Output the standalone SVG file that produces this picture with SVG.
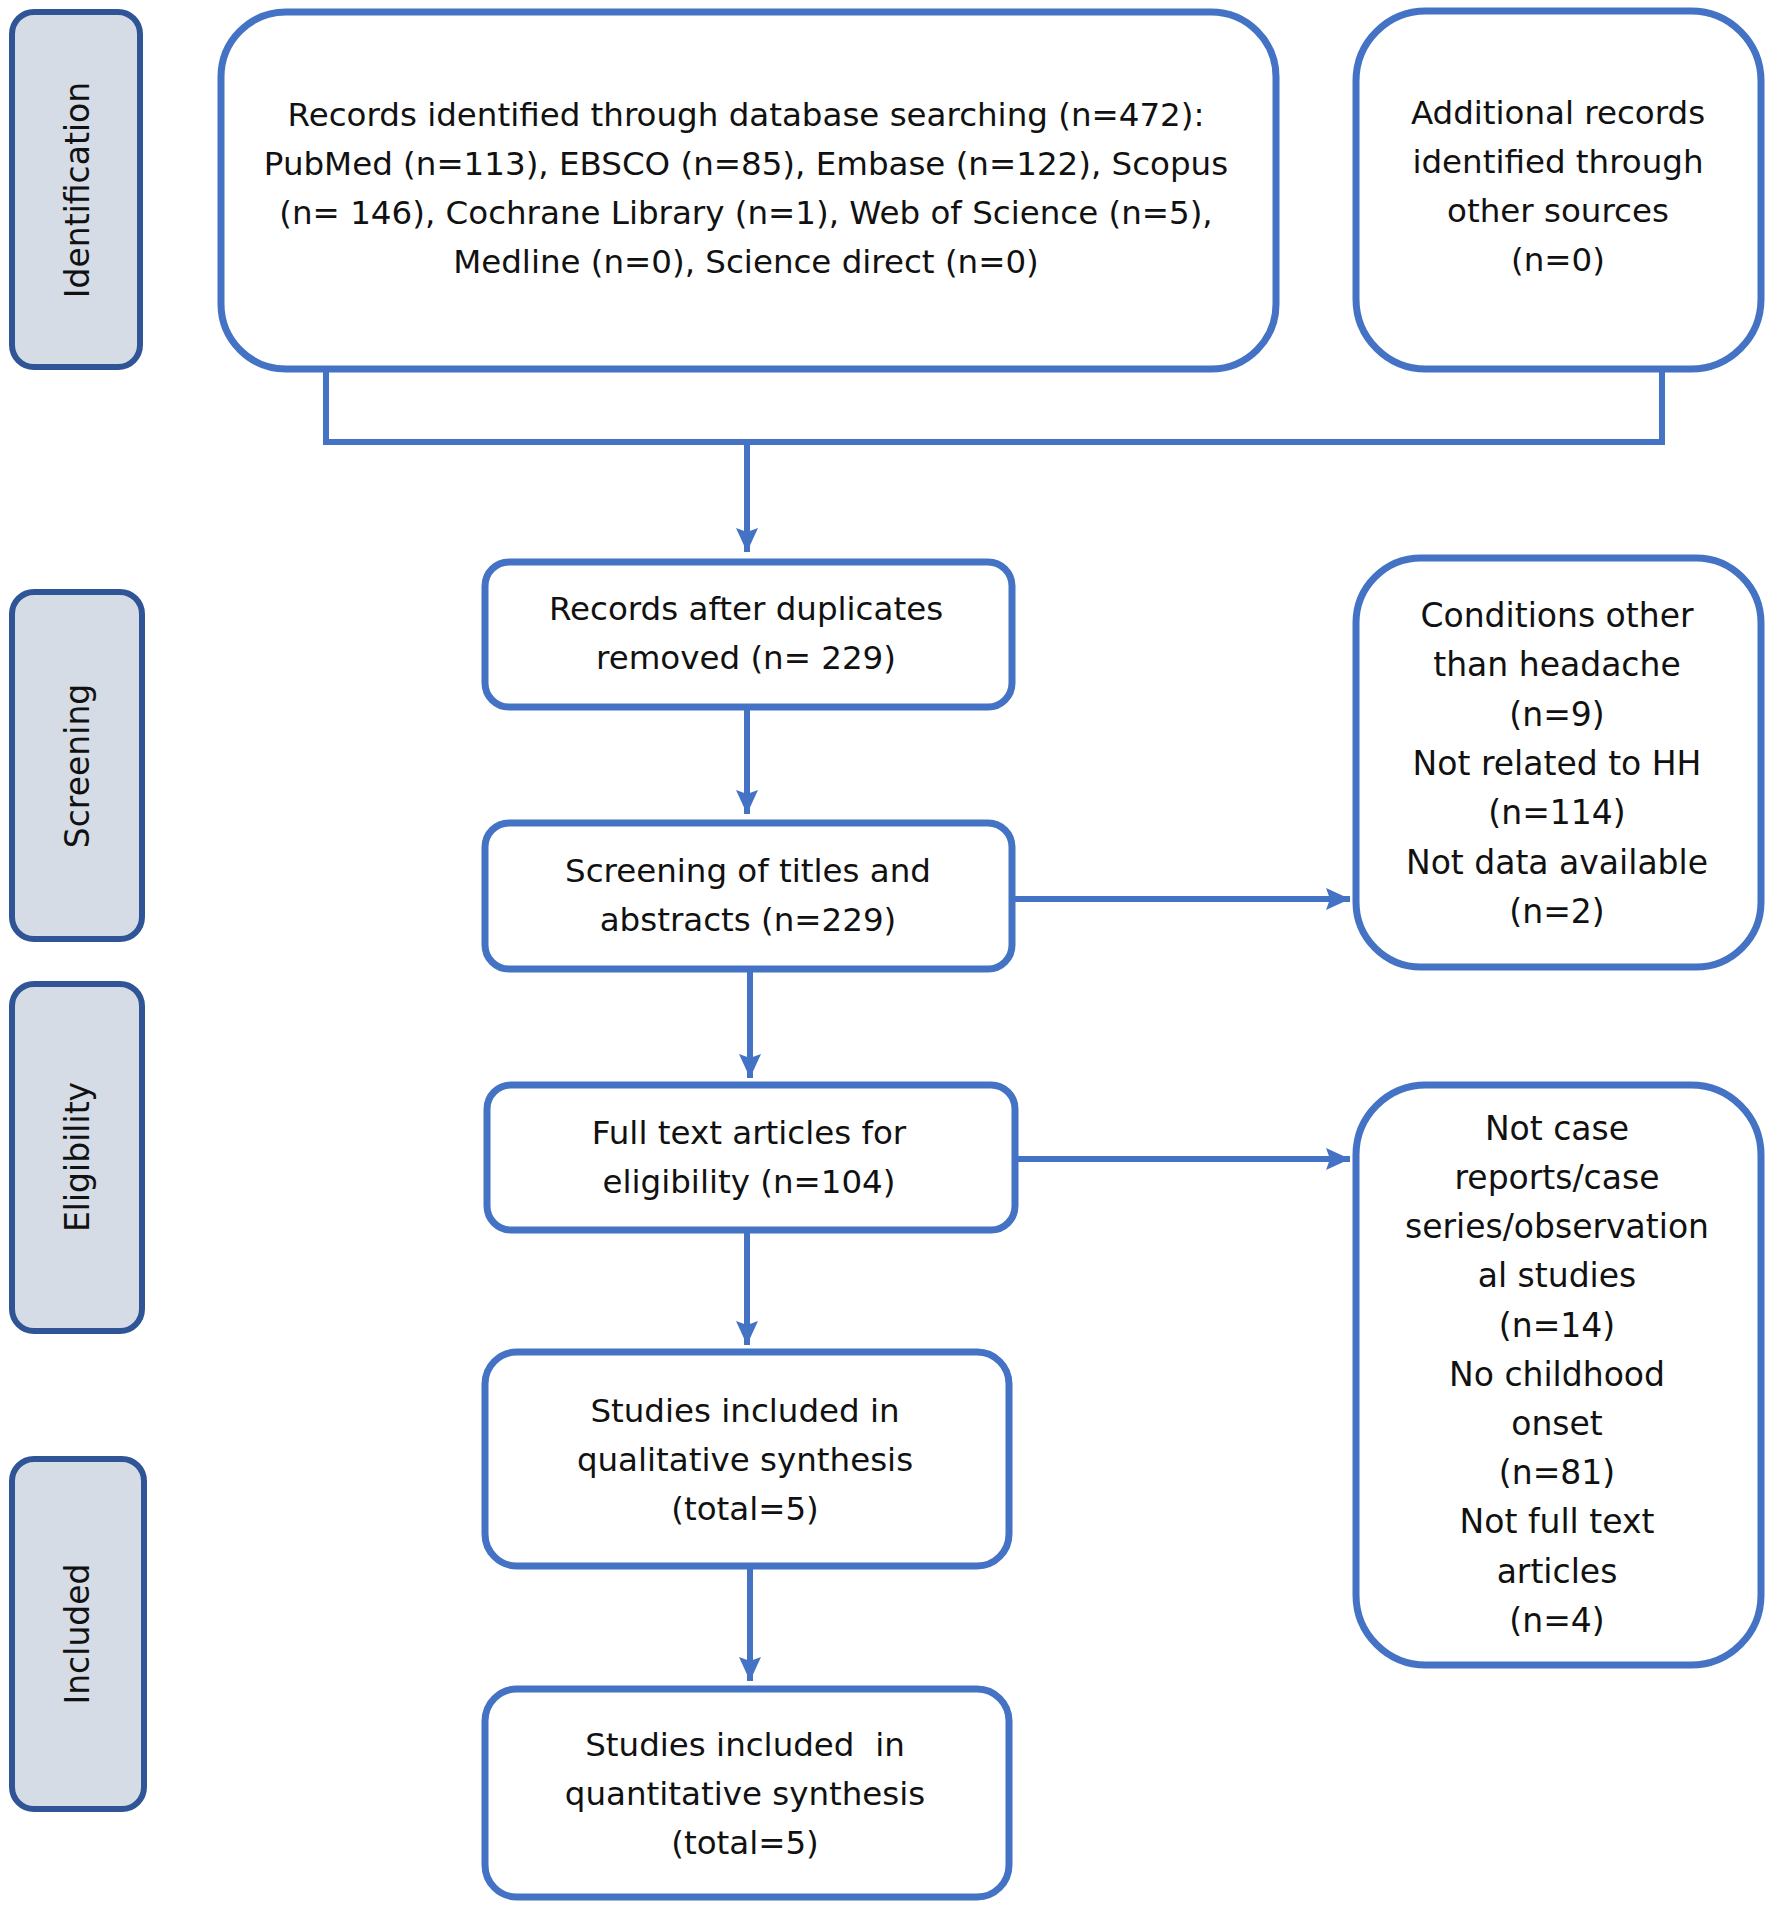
<svg xmlns="http://www.w3.org/2000/svg" width="1772" height="1909" viewBox="0 0 1772 1909">
<style>
.stage{fill:#D6DCE5;stroke:#2F5597;stroke-width:6}
.box{fill:#FFFFFF;stroke:#4472C4;stroke-width:7}
.t{font-family:"DejaVu Sans","Liberation Sans",sans-serif;font-size:32.5px;fill:#111111;text-anchor:middle}
.st{font-family:"DejaVu Sans","Liberation Sans",sans-serif;font-size:33px;fill:#111111;text-anchor:middle}
.conn{fill:none;stroke:#4472C4;stroke-width:6}
</style>
<defs>
<marker id="arr" markerUnits="userSpaceOnUse" markerWidth="24" markerHeight="24" refX="24" refY="12" orient="auto">
<path d="M0,1 L24,12 L0,23 L4,12 z" fill="#4472C4"/>
</marker>
</defs>
<rect width="1772" height="1909" fill="#FFFFFF"/>

<g id="stage-identification">
<rect class="stage" x="12" y="12" width="128" height="355" rx="22"/>
<text class="st" transform="translate(89,190) rotate(-90)">Identification</text>
</g>
<g id="stage-screening">
<rect class="stage" x="12" y="592" width="130" height="347" rx="22"/>
<text class="st" transform="translate(89,766) rotate(-90)">Screening</text>
</g>
<g id="stage-eligibility">
<rect class="stage" x="12" y="984" width="130" height="347" rx="22"/>
<text class="st" transform="translate(89,1157) rotate(-90)">Eligibility</text>
</g>
<g id="stage-included">
<rect class="stage" x="12" y="1459" width="132" height="350" rx="22"/>
<text class="st" transform="translate(89,1634) rotate(-90)">Included</text>
</g>

<g id="connectors">
<path class="conn" d="M326,369 V442 H1662 V369"/>
<path class="conn" d="M747,442 V552" marker-end="url(#arr)"/>
<path class="conn" d="M747,707 V814" marker-end="url(#arr)"/>
<path class="conn" d="M750,969 V1078" marker-end="url(#arr)"/>
<path class="conn" d="M747,1230 V1345" marker-end="url(#arr)"/>
<path class="conn" d="M750,1566 V1681" marker-end="url(#arr)"/>
<path class="conn" d="M1012,899 H1350" marker-end="url(#arr)"/>
<path class="conn" d="M1015,1159 H1350" marker-end="url(#arr)"/>
</g>

<g id="node-database">
<rect class="box" x="221" y="12" width="1055" height="357" rx="65"/>
<text class="t" x="746" y="126">Records identified through database searching (n=472):</text>
<text class="t" x="746" y="175">PubMed (n=113), EBSCO (n=85), Embase (n=122), Scopus</text>
<text class="t" x="746" y="224">(n= 146), Cochrane Library (n=1), Web of Science (n=5),</text>
<text class="t" x="746" y="273">Medline (n=0), Science direct (n=0)</text>
</g>
<g id="node-additional">
<rect class="box" x="1356" y="11" width="405" height="358" rx="70"/>
<text class="t" x="1558" y="124">Additional records</text>
<text class="t" x="1558" y="173">identified through</text>
<text class="t" x="1558" y="222">other sources</text>
<text class="t" x="1558" y="271">(n=0)</text>
</g>
<g id="node-duplicates">
<rect class="box" x="485" y="562" width="527" height="145" rx="24"/>
<text class="t" x="746" y="620">Records after duplicates</text>
<text class="t" x="746" y="669">removed (n= 229)</text>
</g>
<g id="node-screening">
<rect class="box" x="485" y="823" width="527" height="146" rx="24"/>
<text class="t" x="748" y="882">Screening of titles and</text>
<text class="t" x="748" y="931">abstracts (n=229)</text>
</g>
<g id="node-fulltext">
<rect class="box" x="487" y="1085" width="528" height="145" rx="24"/>
<text class="t" x="749" y="1144">Full text articles for</text>
<text class="t" x="749" y="1193">eligibility (n=104)</text>
</g>
<g id="node-qualitative">
<rect class="box" x="485" y="1352" width="524" height="214" rx="32"/>
<text class="t" x="745" y="1422">Studies included in</text>
<text class="t" x="745" y="1471">qualitative synthesis</text>
<text class="t" x="745" y="1520">(total=5)</text>
</g>
<g id="node-quantitative">
<rect class="box" x="485" y="1689" width="524" height="208" rx="32"/>
<text class="t" x="745" y="1756" xml:space="preserve">Studies included  in</text>
<text class="t" x="745" y="1805">quantitative synthesis</text>
<text class="t" x="745" y="1854">(total=5)</text>
</g>
<g id="node-excluded-screening">
<rect class="box" x="1356" y="558" width="405" height="409" rx="65"/>
<text class="st" x="1557" y="627">Conditions other</text>
<text class="st" x="1557" y="676">than headache</text>
<text class="st" x="1557" y="726">(n=9)</text>
<text class="st" x="1557" y="775">Not related to HH</text>
<text class="st" x="1557" y="824">(n=114)</text>
<text class="st" x="1557" y="874">Not data available</text>
<text class="st" x="1557" y="923">(n=2)</text>
</g>
<g id="node-excluded-eligibility">
<rect class="box" x="1356" y="1085" width="405" height="580" rx="70"/>
<text class="st" x="1557" y="1140">Not case</text>
<text class="st" x="1557" y="1189">reports/case</text>
<text class="st" x="1557" y="1238">series/observation</text>
<text class="st" x="1557" y="1287">al studies</text>
<text class="st" x="1557" y="1337">(n=14)</text>
<text class="st" x="1557" y="1386">No childhood</text>
<text class="st" x="1557" y="1435">onset</text>
<text class="st" x="1557" y="1484">(n=81)</text>
<text class="st" x="1557" y="1533">Not full text</text>
<text class="st" x="1557" y="1583">articles</text>
<text class="st" x="1557" y="1632">(n=4)</text>
</g>
</svg>
